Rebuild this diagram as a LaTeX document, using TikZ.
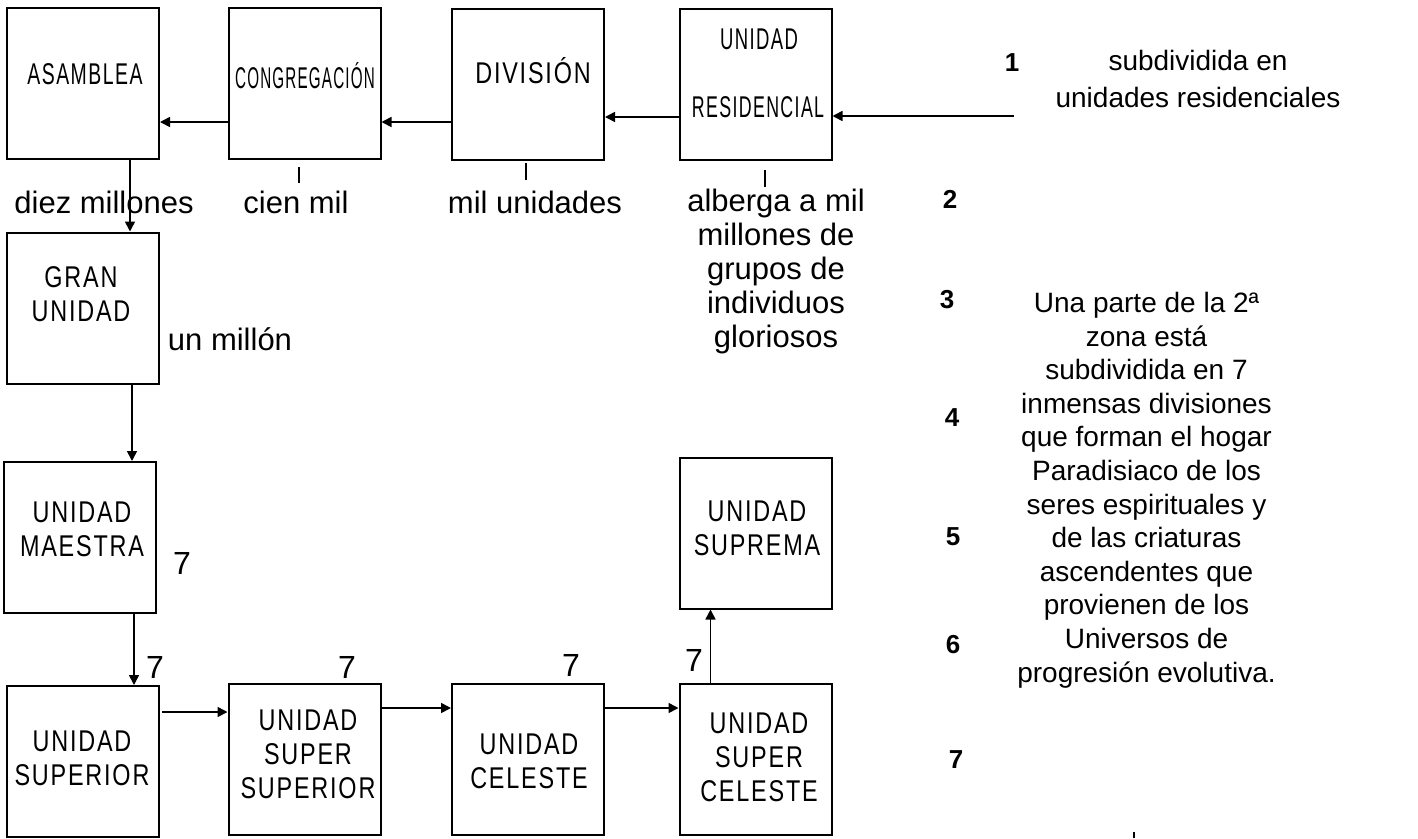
\documentclass[tikz,border=0pt]{standalone}
\usepackage{fontspec}
\setmainfont{Liberation Sans}
\newfontfamily\boxfont[FakeStretch=0.78,LetterSpace=6]{Liberation Sans}
\usetikzlibrary{arrows.meta,calc}
\tikzset{
  box/.style={draw,line width=2pt,inner sep=0pt,minimum width=152pt,minimum height=151pt},
  btxt/.style={inner sep=0pt,align=center,font={\boxfont\fontsize{30}{34}\selectfont}},
  lbl/.style={inner sep=0pt,align=center,font={\fontsize{31}{34}\selectfont}},
  para/.style={inner sep=0pt,align=center,font={\fontsize{28}{33.6}\selectfont}},
  bnum/.style={inner sep=0pt,font={\bfseries\fontsize{26}{30}\selectfont}},
  snum/.style={inner sep=0pt,font={\fontsize{32}{34}\selectfont}},
  arr/.style={line width=1.6pt,-{Triangle[length=10pt,width=10pt]}},
  tick/.style={line width=1.6pt}
}
\begin{document}
\begin{tikzpicture}[x=1pt,y=-1pt]
\useasboundingbox[fill=white] (0,0) rectangle (1418,838);
% boxes
\node[box] (asm) at (83,83) {};
\node[box] (cong) at (304.5,83) {};
\node[box] (div) at (528,84) {};
\node[box] (resid) at (755.5,84) {};
\node[box] (gran) at (83,308) {};
\node[box] (maes) at (80,537.5) {};
\node[box] (sup) at (83,761.5) {};
\node[box] (supsup) at (304.5,759.5) {};
\node[box] (cel) at (528,759.5) {};
\node[box] (supcel) at (755.5,759.5) {};
\node[box] (suprema) at (755.5,533) {};
% box texts
\node[btxt,anchor=base] (tasm) at (85,84) {\scalebox{0.83}[1]{ASAMBLEA}};
\node[btxt,anchor=base] (tcong) at (305,88) {\scalebox{0.65}[1]{CONGREGACIÓN}};
\node[btxt,anchor=base] (tdiv) at (533,83) {DIVISIÓN};
\node[btxt,anchor=base] (tres1) at (759,49) {\scalebox{0.79}[1]{UNIDAD}};
\node[btxt,anchor=base] (tres2) at (758,117) {\scalebox{0.76}[1]{RESIDENCIAL}};
\node[btxt] (tgran) at (81,294) {GRAN\\UNIDAD};
\node[btxt] (tmaes) at (82,529) {UNIDAD\\MAESTRA};
\node[btxt] (tsup) at (82,758.5) {UNIDAD\\SUPERIOR};
\node[btxt] (tsupsup) at (308,754) {UNIDAD\\SUPER\\SUPERIOR};
\node[btxt] (tcel) at (529,761.5) {UNIDAD\\CELESTE};
\node[btxt] (tsupcel) at (759,757) {UNIDAD\\SUPER\\CELESTE};
\node[btxt] (tsuprema) at (757,528.5) {UNIDAD\\SUPREMA};
% connectors
\coordinate (in1) at (1014,116);
\draw[arr] (in1) -- (in1 -| resid.east);
\draw[arr] ($(resid.west)+(0,33)$) -- ($(div.east)+(0,33)$);
\draw[arr] ($(div.west)+(0,38)$) -- ($(cong.east)+(0,39)$);
\draw[arr] ($(cong.west)+(0,39)$) -- ($(asm.east)+(0,39)$);
\draw[arr] ($(asm.south)+(47,0)$) -- ($(gran.north)+(47,0)$);
\draw[arr] ($(gran.south)+(49,0)$) -- ($(maes.north)+(52,0)$);
\draw[arr] ($(maes.south)+(54,0)$) -- ($(sup.north)+(51,0)$);
\draw[arr] ($(sup.east)+(2,-49.5)$) -- ($(supsup.west)+(0,-47.5)$);
\draw[arr] ($(supsup.east)+(0,-51.5)$) -- ($(cel.west)+(0,-51.5)$);
\draw[arr] ($(cel.east)+(0,-51.5)$) -- ($(supcel.west)+(0,-51.5)$);
\draw[arr] ($(supcel.north)+(-45,0)$) -- ($(suprema.south)+(-45,0)$);
% ticks
\draw[tick] (299,167) -- (299,183);
\draw[tick] (526,163) -- (526,180);
\draw[tick] (765,170) -- (765,187);
\draw[tick] (1134,832) -- (1134,838);
% labels
\node[lbl,anchor=base] (l1) at (104,213) {diez millones};
\node[lbl,anchor=base] (l2) at (296,213) {cien mil};
\node[lbl,anchor=base] (l3) at (535,213) {mil unidades};
\node[lbl,anchor=north] (l4) at (776,189) {alberga a mil\\millones de\\grupos de\\individuos\\gloriosos};
\node[lbl,anchor=base] (l5) at (230,350) {un millón};
\node[para,anchor=base,font={\fontsize{28}{37}\selectfont}] (p1) at (1198,107) {subdividida en\\unidades residenciales};
\node[para,anchor=base] (p2) at (1146.5,682) {Una parte de la 2ª\\zona está\\subdividida en 7\\inmensas divisiones\\que forman el hogar\\Paradisiaco de los\\seres espirituales y\\de las criaturas\\ascendentes que\\provienen de los\\Universos de\\progresión evolutiva.};
% numbers
\node[bnum] (n1) at (1012,63) {1};
\node[bnum] (n2) at (950,199) {2};
\node[bnum] (n3) at (947,300) {3};
\node[bnum] (n4) at (952,418) {4};
\node[bnum] (n5) at (953,537) {5};
\node[bnum] (n6) at (953,645) {6};
\node[bnum] (n7) at (956,760) {7};
\node[snum] (s1) at (182,563) {7};
\node[snum] (s2) at (155,667) {7};
\node[snum] (s3) at (347,667) {7};
\node[snum] (s4) at (571,665) {7};
\node[snum] (s5) at (694,660) {7};
\end{tikzpicture}
\end{document}
